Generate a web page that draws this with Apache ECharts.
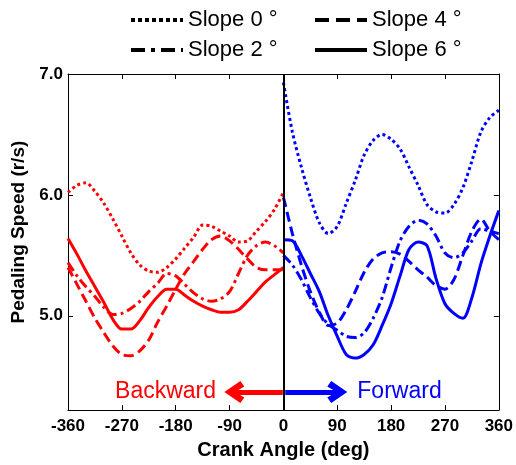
<!DOCTYPE html>
<html>
<head>
<meta charset="utf-8">
<script src="https://cdn.jsdelivr.net/npm/echarts@6/dist/echarts.min.js"></script>
<style>
html, body { margin: 0; padding: 0; background: #fff; }
#chart { width: 516px; height: 465px; }
</style>
</head>
<body>
<div id="chart"></div>
<script>
// crank angles (deg)
var backAngles = [-360, -345, -330, -315, -300, -285, -270, -255, -240, -225, -210, -195, -180,
                  -165, -150, -135, -120, -105, -90, -75, -60, -45, -30, -15, 0];
var fwdAngles = [0, 15, 30, 45, 60, 75, 90, 105, 120, 135, 150, 165, 180,
                 195, 210, 225, 240, 255, 270, 285, 300, 315, 330, 345, 360];

// pedaling speed (r/s), backward pedaling
var back0 = [6.02, 6.08, 6.10, 6.03, 5.93, 5.80, 5.66, 5.52, 5.42, 5.37, 5.36, 5.40, 5.47,
             5.56, 5.65, 5.75, 5.74, 5.70, 5.66, 5.61, 5.62, 5.70, 5.78, 5.88, 6.02];
var back2 = [5.44, 5.33, 5.24, 5.16, 5.07, 5.01, 5.02, 5.06, 5.12, 5.20, 5.27, 5.35, 5.33,
             5.26, 5.19, 5.14, 5.12, 5.14, 5.20, 5.35, 5.50, 5.58, 5.61, 5.58, 5.52];
var back4 = [5.40, 5.26, 5.12, 4.98, 4.86, 4.75, 4.68, 4.67, 4.71, 4.80, 4.95, 5.08, 5.22,
             5.35, 5.45, 5.55, 5.63, 5.66, 5.62, 5.55, 5.47, 5.40, 5.38, 5.38, 5.38];
var back6 = [5.64, 5.51, 5.37, 5.24, 5.11, 4.97, 4.89, 4.89, 4.96, 5.07, 5.16, 5.22, 5.22,
             5.17, 5.12, 5.08, 5.05, 5.03, 5.03, 5.05, 5.12, 5.20, 5.28, 5.34, 5.40];

// pedaling speed (r/s), forward pedaling
var fwd0 = [6.93, 6.52, 6.23, 5.98, 5.77, 5.68, 5.74, 5.93, 6.12, 6.33, 6.45, 6.50, 6.46,
            6.38, 6.23, 6.08, 5.92, 5.86, 5.85, 5.92, 6.06, 6.28, 6.52, 6.64, 6.70];
var fwd2 = [5.50, 5.42, 5.30, 5.15, 5.02, 4.93, 4.88, 4.83, 4.82, 4.86, 4.98, 5.15, 5.40,
            5.62, 5.74, 5.79, 5.76, 5.66, 5.52, 5.48, 5.52, 5.62, 5.72, 5.70, 5.68];
var fwd4 = [5.98, 5.68, 5.42, 5.20, 5.03, 4.92, 4.94, 5.05, 5.20, 5.36, 5.47, 5.52, 5.53,
            5.51, 5.45, 5.38, 5.32, 5.25, 5.22, 5.30, 5.50, 5.70, 5.80, 5.70, 5.63];
var fwd6 = [5.63, 5.62, 5.50, 5.35, 5.20, 5.00, 4.83, 4.68, 4.65, 4.68, 4.76, 4.92, 5.10,
            5.33, 5.55, 5.61, 5.58, 5.31, 5.10, 5.02, 4.98, 5.15, 5.43, 5.66, 5.87];

var slopeNames = ['Slope 0 °', 'Slope 2 °', 'Slope 4 °', 'Slope 6 °'];
var yTicks = [5, 6, 7];
var arrowY = 4.37;

var RED = '#ff0000';
var BLUE = '#0000ff';
var font = '"Liberation Sans", Arial, sans-serif';

// line patterns for slope 0, 2, 4, 6
var dashes = [[3, 3], [10, 4, 3, 4], [10, 5], 'solid'];
var legendDashes = [[4, 3], [14, 6, 4, 6], [14, 7], 'solid'];

function pairs(xs, ys) {
    return xs.map(function (x, i) { return [x, ys[i]]; });
}

var chevron = 'path://M0,12 L10,0 L20,12 L15,15 L10,8 L5,15 Z';

var series = [];

// dummy series just for the black legend entries
slopeNames.forEach(function (name, i) {
    series.push({
        name: name,
        type: 'line',
        data: [],
        symbol: 'none',
        color: '#000',
        lineStyle: { color: '#000', width: 4, type: legendDashes[i] }
    });
});

var backData = [back0, back2, back4, back6];
var fwdData = [fwd0, fwd2, fwd4, fwd6];

backData.forEach(function (vals, i) {
    series.push({
        name: 'back ' + i,
        type: 'line',
        data: pairs(backAngles, vals),
        symbol: 'none',
        smooth: 0.3,
        color: RED,
        lineStyle: { color: RED, width: 3, type: dashes[i] },
        z: 3
    });
});
fwdData.forEach(function (vals, i) {
    series.push({
        name: 'fwd ' + i,
        type: 'line',
        data: pairs(fwdAngles, vals),
        symbol: 'none',
        smooth: 0.3,
        color: BLUE,
        lineStyle: { color: BLUE, width: 3, type: dashes[i] },
        z: 3
    });
});

// zero line, arrows and direction labels
series[4].markLine = {
    silent: true,
    symbol: 'none',
    label: { show: false },
    lineStyle: { color: '#000', width: 2, type: 'solid' },
    data: [{ xAxis: 0 }]
};
series[7].markLine = {
    silent: true,
    symbol: ['none', chevron],
    symbolSize: [22, 20],
    label: { show: false },
    lineStyle: { color: RED, width: 5, type: 'solid' },
    data: [[{ coord: [-1, arrowY] }, { coord: [-82, arrowY] }]]
};
series[11].markLine = {
    silent: true,
    symbol: ['none', chevron],
    symbolSize: [22, 20],
    label: { show: false },
    lineStyle: { color: BLUE, width: 5, type: 'solid' },
    data: [[{ coord: [3, arrowY] }, { coord: [90, arrowY] }]]
};
series[7].markPoint = {
    silent: true,
    symbol: 'circle',
    symbolSize: 1,
    itemStyle: { color: 'transparent' },
    label: { show: true, position: 'inside', color: RED, fontSize: 23, fontFamily: font },
    data: [{ coord: [-197, arrowY], value: 'Backward' }]
};
series[11].markPoint = {
    silent: true,
    symbol: 'circle',
    symbolSize: 1,
    itemStyle: { color: 'transparent' },
    label: { show: true, position: 'inside', color: BLUE, fontSize: 23, fontFamily: font },
    data: [{ coord: [194, arrowY], value: 'Forward' }]
};

var legendBase = {
    orient: 'vertical',
    top: 4,
    itemWidth: 52,
    itemHeight: 14,
    itemGap: 8,
    selectedMode: false,
    itemStyle: { color: 'rgba(0,0,0,0)', borderColor: 'rgba(0,0,0,0)', borderWidth: 0 },
    lineStyle: { width: 4 },
    textStyle: { color: '#000', fontSize: 22, fontFamily: font, lineHeight: 22 }
};

var chart = echarts.init(document.getElementById('chart'));
chart.setOption({
    animation: false,
    backgroundColor: '#fff',
    legend: [
        Object.assign({}, legendBase, { left: 124, data: [slopeNames[0], slopeNames[1]] }),
        Object.assign({}, legendBase, { left: 308, data: [slopeNames[2], slopeNames[3]] })
    ],
    grid: { left: 68, right: 16, top: 74, bottom: 52 },
    xAxis: [{
        type: 'value',
        min: -360,
        max: 360,
        interval: 90,
        name: 'Crank Angle (deg)',
        nameLocation: 'middle',
        nameGap: 25,
        nameTextStyle: { color: '#000', fontSize: 20, fontWeight: 'bold', fontFamily: font },
        axisLine: { onZero: false, lineStyle: { color: '#000', width: 1 } },
        axisTick: { inside: true, length: 5, lineStyle: { color: '#000' } },
        axisLabel: { color: '#000', fontSize: 17, fontWeight: 'bold', fontFamily: font, margin: 8 },
        splitLine: { show: false }
    }, {
        type: 'value',
        position: 'top',
        min: -360,
        max: 360,
        interval: 90,
        axisLine: { show: true, onZero: false, lineStyle: { color: '#000', width: 1 } },
        axisTick: { inside: true, length: 5, lineStyle: { color: '#000' } },
        axisLabel: { show: false },
        splitLine: { show: false }
    }],
    yAxis: [{
        type: 'value',
        min: 4.22,
        max: 7,
        name: 'Pedaling Speed (r/s)',
        nameLocation: 'middle',
        nameGap: 36,
        nameTextStyle: {
            color: '#000', fontSize: 19, fontWeight: 'bold', fontFamily: font,
            padding: [0, 0, 0, 20]
        },
        axisLine: { show: true, onZero: false, lineStyle: { color: '#000', width: 1 } },
        axisTick: { show: true, inside: true, length: 5, customValues: yTicks, lineStyle: { color: '#000' } },
        axisLabel: {
            color: '#000', fontSize: 17, fontWeight: 'bold', fontFamily: font, margin: 5,
            customValues: yTicks,
            formatter: function (v) { return v.toFixed(1); }
        },
        splitLine: { show: false }
    }, {
        type: 'value',
        position: 'right',
        min: 4.22,
        max: 7,
        axisLine: { show: true, onZero: false, lineStyle: { color: '#000', width: 1 } },
        axisTick: { show: true, inside: true, length: 5, customValues: yTicks, lineStyle: { color: '#000' } },
        axisLabel: { show: false },
        splitLine: { show: false }
    }],
    series: series
});
</script>
</body>
</html>
